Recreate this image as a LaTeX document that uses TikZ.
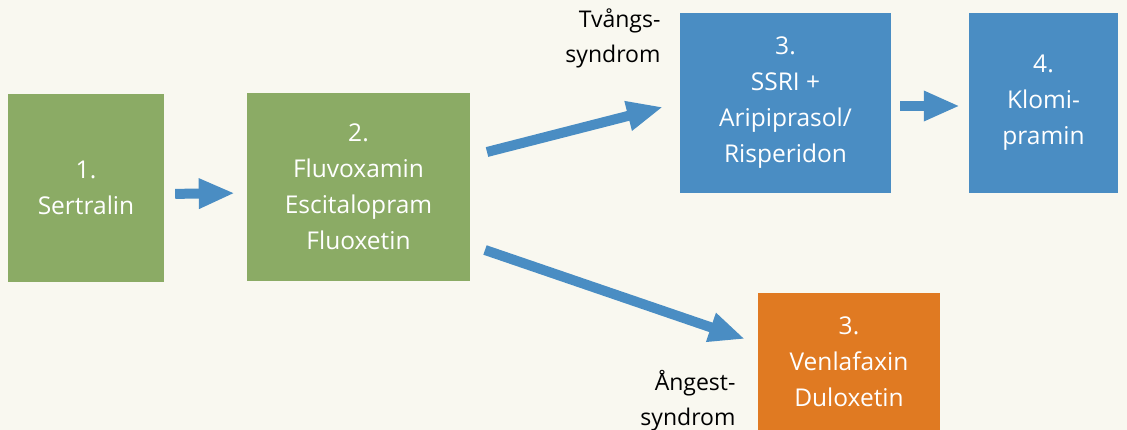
\documentclass[tikz,border=0pt]{standalone}
\usepackage{fontspec}
\setmainfont{Open Sans}
\usetikzlibrary{arrows.meta,positioning}
\definecolor{bgcream}{HTML}{F9F8F0}
\definecolor{drugGreen}{HTML}{8BAB65}
\definecolor{drugBlue}{HTML}{4A8DC3}
\definecolor{drugOrange}{HTML}{E07A22}
\tikzset{
  drug/.style={fill=#1, text=white, align=center, inner sep=0pt, font=\fontsize{24.5}{36}\selectfont},
  fat/.style={draw=drugBlue, line width=10pt, -{Triangle[length=36pt,width=28pt]}},
  tag/.style={align=right, anchor=east, font=\fontsize{23}{35}\selectfont}
}
\begin{document}
\begin{tikzpicture}[x=1pt,y=-1pt]
  \fill[bgcream] (0,0) rectangle (1127,430);
  \useasboundingbox (0,0) rectangle (1127,430);
  % first and second line
  \node[drug=drugGreen, minimum width=156pt, minimum height=188pt] (sert) at (86,188) {1.\\Sertralin};
  \node[drug=drugGreen, minimum width=223pt, minimum height=188pt] (fluv) at (358.5,187) {2.\\Fluvoxamin\\Escitalopram\\Fluoxetin};
  % third line
  \node[drug=drugBlue, minimum width=211pt, minimum height=180pt] (ssri) at (785.5,103) {3.\\SSRI +\\Aripiprasol/\\Risperidon};
  \node[drug=drugOrange, minimum width=182pt, minimum height=137pt] (venl) at (849,361.5) {3.\\Venlafaxin\\Duloxetin};
  % fourth line
  \node[drug=drugBlue, minimum width=149pt, minimum height=180pt] (klom) at (1043.5,103) {4.\\Klomi-\\pramin};
  % diagnoses
  \node[tag] (tvang) at (664,38) {Tvångs-\\syndrom};
  \node[tag] (angest) at (739,401) {Ångest-\\syndrom};
  % arrows
  \coordinate (upS) at (487,152);
  \coordinate (upE) at (663,107);
  \coordinate (dnS) at (485,250);
  \coordinate (dnE) at (745,339);
  \draw[fat, shorten <=11pt, shorten >=12pt] ([yshift=-6pt]sert.east) -- ([yshift=-6pt]fluv.west);
  \draw[fat] (upS) -- (upE);
  \draw[fat] (dnS) -- (dnE);
  \draw[fat, shorten <=9pt, shorten >=9pt] ([yshift=-3pt]ssri.east) -- ([yshift=-3pt]klom.west);
\end{tikzpicture}
\end{document}
